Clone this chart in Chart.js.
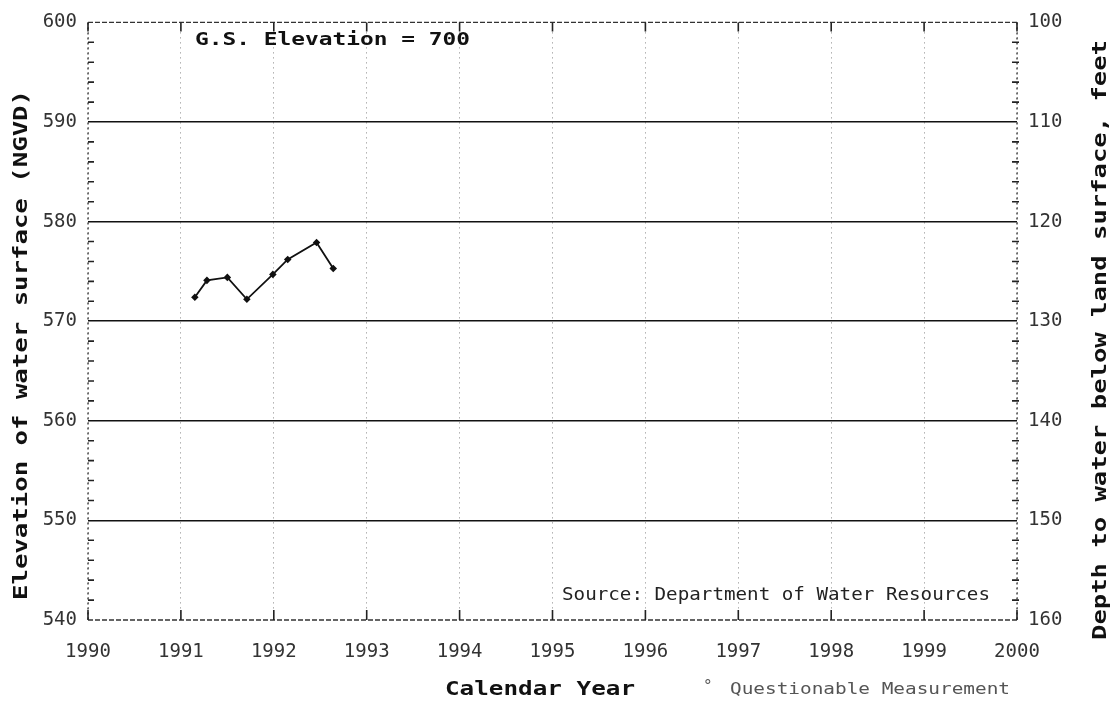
<!DOCTYPE html>
<html lang="en">
<head>
    <meta charset="UTF-8" />
    <title>Well hydrograph</title>
    <script src="https://cdn.jsdelivr.net/npm/chart.js"></script>
    <style>
        body { margin: 0; background: #fff; }
        #wrap { width: 1118px; height: 702px; }
    </style>
</head>
<body>
    <div id="wrap"><canvas id="hydroChart"></canvas></div>

    <script>
        // measurement dates (decimal years) and water surface elevation (ft NGVD)
        const years = [1991.15, 1991.28, 1991.50, 1991.71, 1991.99, 1992.15, 1992.46, 1992.64];
        const elevations = [572.4, 574.1, 574.4, 572.2, 574.7, 576.2, 577.9, 575.3];

        const groundElevation = 700;
        const yearTicks = [1990, 1991, 1992, 1993, 1994, 1995, 1996, 1997, 1998, 1999, 2000];
        const elevTicks = [540, 550, 560, 570, 580, 590, 600];
        const depthTicks = [100, 110, 120, 130, 140, 150, 160];

        const mono = "'DejaVu Sans Mono', 'Liberation Mono', monospace";
        const points = years.map((yr, i) => ({ x: yr, y: elevations[i] }));

        // the scanned plot uses a wide plotter font, so stretch text to its width
        function wideText(ctx, text, x, y, width) {
            const w = ctx.measureText(text).width;
            ctx.save();
            ctx.translate(x, y);
            ctx.scale(width / w, 1);
            ctx.fillText(text, 0, 0);
            ctx.restore();
        }

        const decorPlugin = {
            id: 'decor',
            afterDraw(chart) {
                const ctx = chart.ctx;
                const a = chart.chartArea;
                const xs = chart.scales.x, ys = chart.scales.y;
                ctx.save();

                // frame
                ctx.strokeStyle = '#333';
                ctx.lineWidth = 1.3;
                ctx.setLineDash([5, 2]);
                ctx.beginPath();
                ctx.moveTo(a.left, a.top); ctx.lineTo(a.right, a.top);
                ctx.moveTo(a.left, a.bottom); ctx.lineTo(a.right, a.bottom);
                ctx.stroke();
                ctx.setLineDash([2, 3]);
                ctx.beginPath();
                ctx.moveTo(a.left, a.top); ctx.lineTo(a.left, a.bottom);
                ctx.moveTo(a.right, a.top); ctx.lineTo(a.right, a.bottom);
                ctx.stroke();
                ctx.setLineDash([]);

                // minor elevation ticks and year ticks on the frame
                ctx.strokeStyle = '#222';
                ctx.lineWidth = 1.6;
                ctx.beginPath();
                for (let v = 542; v < 600; v += 2) {
                    if (v % 10 === 0) continue;
                    const py = ys.getPixelForValue(v);
                    ctx.moveTo(a.left, py); ctx.lineTo(a.left + 6, py);
                    ctx.moveTo(a.right - 5, py); ctx.lineTo(a.right + 2, py);
                }
                yearTicks.forEach(yr => {
                    const px = xs.getPixelForValue(yr);
                    ctx.moveTo(px, a.top); ctx.lineTo(px, a.top + 9);
                    ctx.moveTo(px, a.bottom); ctx.lineTo(px, a.bottom - 10);
                });
                ctx.stroke();

                ctx.fillStyle = '#111';
                ctx.textBaseline = 'middle';
                ctx.textAlign = 'left';
                ctx.font = "bold 18px " + mono;
                wideText(ctx, 'G.S. Elevation = ' + groundElevation, 195, 40, 275);

                ctx.fillStyle = '#222';
                ctx.font = "17px " + mono;
                wideText(ctx, 'Source: Department of Water Resources', 562, 596, 428);

                ctx.fillStyle = '#111';
                ctx.font = "bold 19px " + mono;
                wideText(ctx, 'Calendar Year', 445, 690, 190);
                ctx.fillStyle = '#555';
                ctx.font = "16px " + mono;
                ctx.fillText('\u00b0', 703, 687);
                wideText(ctx, 'Questionable Measurement', 730, 690, 280);

                // axis titles, both read bottom to top
                ctx.fillStyle = '#111';
                ctx.font = "bold 20px " + mono;
                ctx.save();
                ctx.translate(22, 600);
                ctx.rotate(-Math.PI / 2);
                wideText(ctx, 'Elevation of water surface (NGVD)', 0, 0, 510);
                ctx.restore();
                ctx.save();
                ctx.translate(1101, 640);
                ctx.rotate(-Math.PI / 2);
                wideText(ctx, 'Depth to water below land surface, feet', 0, 0, 600);
                ctx.restore();
                ctx.restore();
            }
        };

        new Chart(document.getElementById('hydroChart'), {
            type: 'line',
            data: {
                datasets: [{
                    data: points,
                    borderColor: '#111',
                    backgroundColor: '#111',
                    borderWidth: 1.8,
                    pointRadius: 2.5,
                    pointStyle: 'rectRot',
                    tension: 0
                }]
            },
            options: {
                responsive: true,
                maintainAspectRatio: false,
                animation: false,
                layout: { padding: { top: 15 } },
                plugins: { legend: { display: false }, tooltip: { enabled: false } },
                scales: {
                    x: {
                        type: 'linear',
                        min: 1990, max: 2000,
                        afterFit: s => { s.height = 82; },
                        afterBuildTicks: s => { s.ticks = yearTicks.map(v => ({ value: v })); },
                        ticks: { font: { family: mono, size: 19 }, color: '#333', padding: 21, callback: v => String(v) },
                        grid: { color: '#888', lineWidth: 1, drawTicks: false },
                        border: { display: false, dash: [1, 4] }
                    },
                    y: {
                        position: 'left',
                        min: 540, max: 600,
                        afterFit: s => { s.width = 88; },
                        afterBuildTicks: s => { s.ticks = elevTicks.map(v => ({ value: v })); },
                        ticks: { font: { family: mono, size: 19 }, color: '#333', padding: 11, callback: v => String(v) },
                        grid: { color: v => (v.tick && (v.tick.value === 540 || v.tick.value === 600)) ? 'rgba(0,0,0,0)' : '#111', lineWidth: 1.5, drawTicks: false },
                        border: { display: false }
                    },
                    y2: {
                        position: 'right',
                        min: 100, max: 160,
                        reverse: true,
                        afterFit: s => { s.width = 101; },
                        afterBuildTicks: s => { s.ticks = depthTicks.map(v => ({ value: v })); },
                        ticks: { font: { family: mono, size: 19 }, color: '#333', padding: 11, callback: v => String(v) },
                        grid: { drawOnChartArea: false, drawTicks: false },
                        border: { display: false }
                    }
                }
            },
            plugins: [decorPlugin]
        });
    </script>
</body>
</html>
